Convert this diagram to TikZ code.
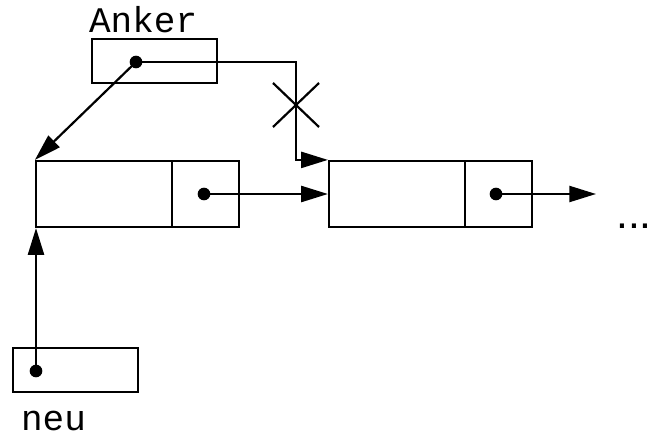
\documentclass[tikz,border=0pt]{standalone}
\usepackage{fontspec}
\setmonofont{Liberation Mono}
\setsansfont{Liberation Sans}
\usetikzlibrary{arrows.meta}
\begin{document}
\begin{tikzpicture}[x=0.75pt,y=-0.75pt,
  line width=1.65pt,
  cell/.style={draw,rectangle,inner sep=0pt,line width=1.65pt},
  ptr/.style={circle,fill,inner sep=0pt,minimum size=9.5pt},
  link/.style={-{Triangle[length=20pt,width=12pt]},line join=miter},
  lbl/.style={font=\ttfamily\fontsize{27}{30}\selectfont,inner sep=0pt}]
  \useasboundingbox (0,0) rectangle (659,435);
  % anchor pointer box
  \node[cell,minimum width=93.75pt,minimum height=33pt] (anker) at (154.5,61) {};
  \node[lbl,anchor=base west] (ankerlbl) at (88,33) {Anker};
  \node[ptr] (adot) at (136,62) {};
  % first list element
  \node[cell,minimum width=102pt,minimum height=49.5pt] (n1a) at (104,194) {};
  \node[cell,minimum width=50.25pt,minimum height=49.5pt] (n1b) at (205.5,194) {};
  \node[ptr] (n1dot) at (204,194) {};
  % second list element
  \node[cell,minimum width=102pt,minimum height=49.5pt] (n2a) at (397,194) {};
  \node[cell,minimum width=50.25pt,minimum height=49.5pt] (n2b) at (498.5,194) {};
  \node[ptr] (n2dot) at (496,194) {};
  \node[font=\sffamily\fontsize{32}{34}\selectfont,inner sep=0pt,anchor=base] (more) at (634,228) {...};
  % new element pointer
  \node[cell,minimum width=93.75pt,minimum height=33pt] (neu) at (75.5,370) {};
  \node[lbl,anchor=base west] (neulbl) at (20,430) {neu};
  \node[ptr] (ndot) at (36,371) {};
  % connectors
  \coordinate (bend) at (296,62);
  \coordinate (cut) at (296,105);
  \draw[link] (adot.center) -- (bend) |- (n2a.north west);
  \draw (cut) ++(-23,-22) -- ++(46,44);
  \draw (cut) ++(23,-22) -- ++(-46,44);
  \draw[link] (adot.center) -- (n1a.north west);
  \draw[link] (n1dot.center) -- (n2a.west);
  \draw[link] (n2dot.center) -- (596,194) coordinate (tail);
  \draw[link] (ndot.center) -- (ndot |- n1a.south west);
\end{tikzpicture}
\end{document}
